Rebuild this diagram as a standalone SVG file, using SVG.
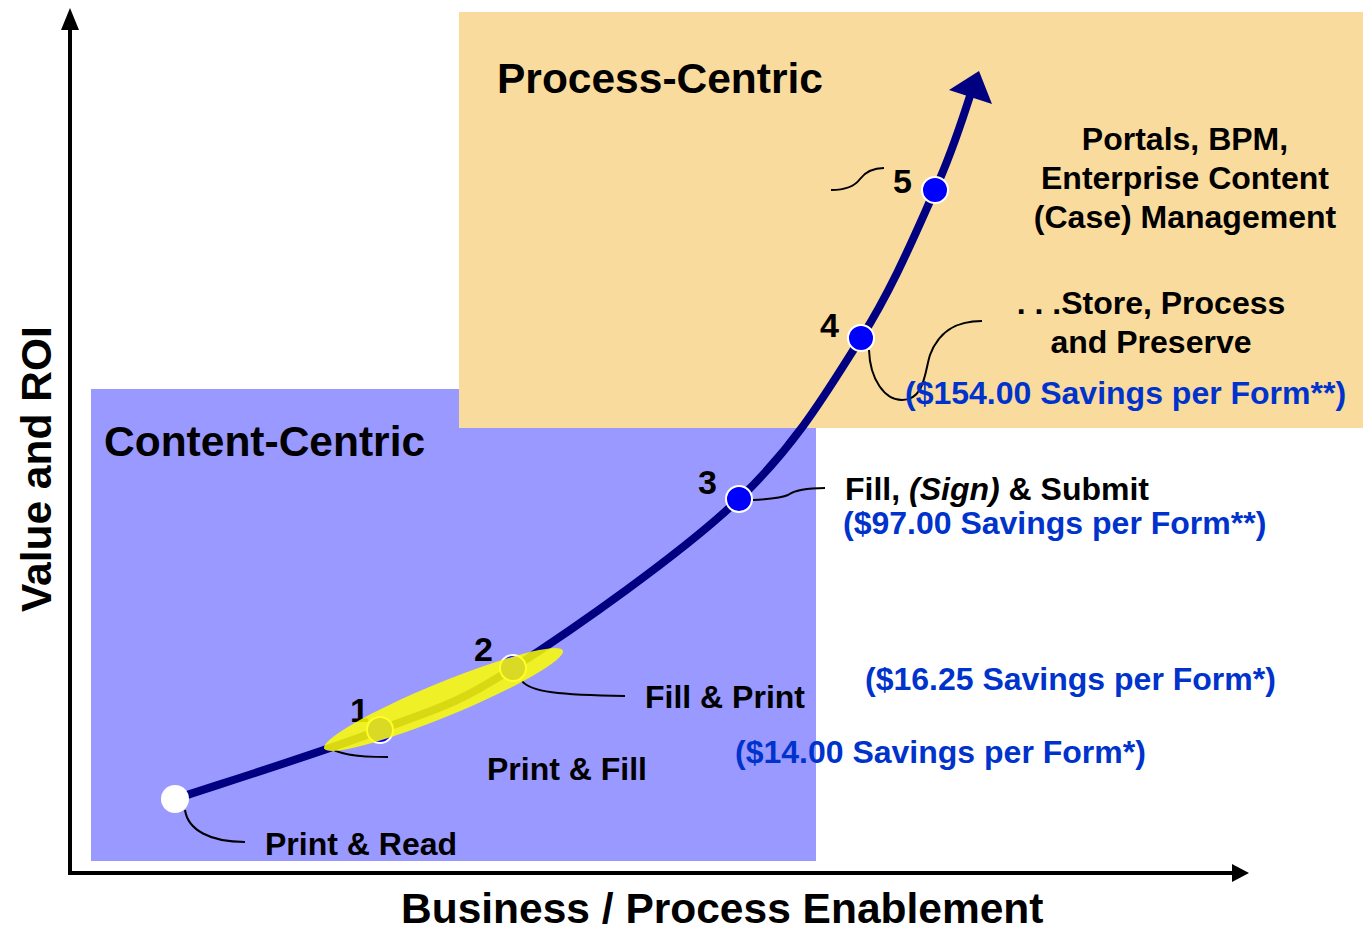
<svg xmlns="http://www.w3.org/2000/svg" width="1363" height="933" viewBox="0 0 1363 933">
<style>
text{font-family:"Liberation Sans",Arial,sans-serif;font-weight:bold;}
.lbl{font-size:32px;fill:#000;}
.num{font-size:34px;fill:#000;}
.sav{font-size:32px;fill:#0033CC;}
.title{font-size:42.5px;fill:#000;}
.call{fill:none;stroke:#000;stroke-width:2;}
.pt{fill:#0000FF;stroke:#fff;stroke-width:2;}
</style>
<rect x="0" y="0" width="1363" height="933" fill="#fff"/>
<g id="content-centric">
<rect x="91" y="389" width="725" height="472" fill="#9999FF"/>
<text class="title" x="104" y="456">Content-Centric</text>
</g>
<g id="process-centric">
<rect x="459" y="12" width="904" height="416" fill="#FADB9E"/>
<text class="title" x="497" y="93">Process-Centric</text>
</g>
<g id="axes">
<line x1="70" y1="874" x2="70" y2="28" stroke="#000" stroke-width="4"/>
<polygon points="70,8 61,30 79,30" fill="#000"/>
<line x1="68" y1="873" x2="1232" y2="873" stroke="#000" stroke-width="4"/>
<polygon points="1249,873 1232,864 1232,882" fill="#000"/>
<text class="title" x="401" y="923">Business / Process Enablement</text>
<text class="title" transform="translate(51,612) rotate(-90)" x="0" y="0">Value and ROI</text>
</g>
<g id="connectors">
<path d="M175,799 C209,787.5 323.7,751.8 380,730 C436.3,708.2 453.2,706.5 513,668 C572.8,629.5 681,554 739,499 C797,444 828.3,389.5 861,338 C893.7,286.5 916.8,230 935,190 C953.2,150 964.2,113.3 970,96" fill="none" stroke="#000080" stroke-width="8"/>
<polygon points="979,71 949,90 992,104" fill="#000080"/>
<path class="call" d="M185,810 C188,830 210,842 245,842"/>
<path class="call" d="M327,745 C335,755 360,757 388,757"/>
<path class="call" d="M522,681 C530,692 560,695 625,696"/>
<path class="call" d="M753,500 C770,499 782,498 788,495 C795,490 805,488 825,488"/>
<path class="call" d="M869,350 C870,380 885,400 902,400 C925,400 925,370 930,355 C940,328 960,321 982,321" stroke-width="1.5"/>
<path class="call" d="M831,190 C845,190 855,186 860,179 C866,171 875,168 884,168"/>
</g>
<g id="node-0">
<circle cx="175" cy="799" r="14" fill="#fff"/>
<text class="lbl" x="265" y="855">Print &amp; Read</text>
</g>
<g id="node-1">
<circle class="pt" cx="380" cy="730" r="13"/>
<text class="num" x="350" y="722">1</text>
</g>
<g id="node-2">
<circle class="pt" cx="513" cy="668" r="13"/>
<text class="num" x="474" y="661">2</text>
</g>
<g id="highlight">
<ellipse cx="443.5" cy="699.5" rx="129" ry="17" transform="rotate(-22.3 443.5 699.5)" fill="#FFFF00" fill-opacity="0.85"/>
</g>
<g id="label-print-fill">
<text class="lbl" x="487" y="780">Print &amp; Fill</text>
<text class="lbl" x="645" y="708">Fill &amp; Print</text>
<text class="sav" x="865" y="690">($16.25 Savings per Form*)</text>
<text class="sav" x="735" y="763">($14.00 Savings per Form*)</text>
</g>
<g id="node-3">
<circle class="pt" cx="739" cy="499" r="13"/>
<text class="num" x="698" y="494">3</text>
<text class="lbl" x="845" y="500">Fill, <tspan font-style="italic">(Sign)</tspan> &amp; Submit</text>
<text class="sav" x="843" y="534">($97.00 Savings per Form**)</text>
</g>
<g id="node-4">
<circle class="pt" cx="861" cy="338" r="13"/>
<text class="num" x="820" y="337">4</text>
<text class="lbl" x="1151" y="314" text-anchor="middle">. . .Store, Process</text>
<text class="lbl" x="1151" y="353" text-anchor="middle">and Preserve</text>
<text class="sav" x="905" y="404">($154.00 Savings per Form**)</text>
</g>
<g id="node-5">
<circle class="pt" cx="935" cy="190" r="13"/>
<text class="num" x="893" y="193">5</text>
<text class="lbl" x="1185" y="150" text-anchor="middle">Portals, BPM,</text>
<text class="lbl" x="1185" y="189" text-anchor="middle">Enterprise Content</text>
<text class="lbl" x="1185" y="228" text-anchor="middle">(Case) Management</text>
</g>
</svg>
